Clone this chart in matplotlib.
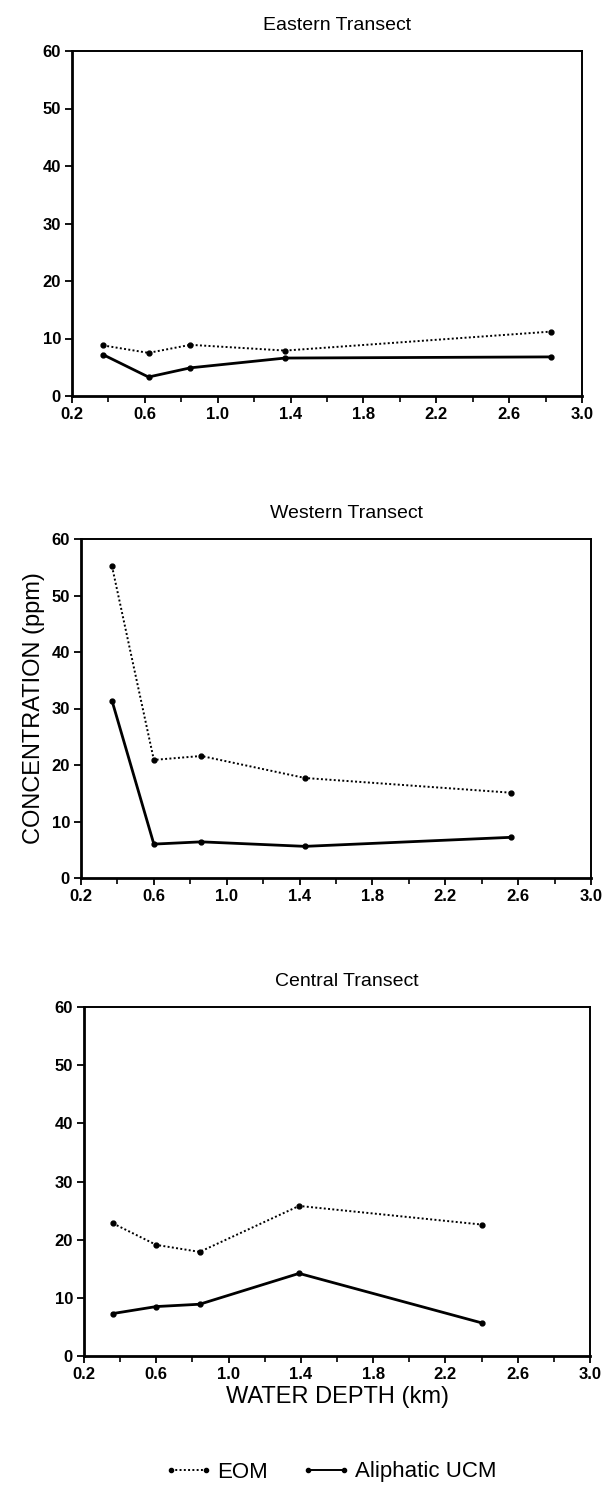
import matplotlib
matplotlib.use("Agg")
import matplotlib.pyplot as plt
from matplotlib.lines import Line2D
from matplotlib.ticker import MultipleLocator

plt.rcParams['font.family'] = ['Liberation Sans', 'DejaVu Sans']

# ---- data ----
east_depth_eom = [0.37, 0.62, 0.85, 1.37, 2.83]
east_eom = [8.8, 7.5, 8.9, 7.9, 11.2]
east_depth_ucm = [0.37, 0.62, 0.85, 1.37, 2.83]
east_ucm = [7.2, 3.3, 4.9, 6.6, 6.8]

west_depth = [0.37, 0.60, 0.86, 1.43, 2.56]
west_eom = [55.2, 20.9, 21.6, 17.7, 15.1]
west_ucm = [31.4, 6.0, 6.4, 5.6, 7.2]

central_depth = [0.36, 0.60, 0.84, 1.39, 2.40]
central_eom = [22.8, 19.1, 17.9, 25.8, 22.6]
central_ucm = [7.3, 8.5, 8.9, 14.2, 5.7]

titles = ["Eastern Transect", "Western Transect", "Central Transect"]
xticks = [0.2, 0.6, 1.0, 1.4, 1.8, 2.2, 2.6, 3.0]
yticks = [0, 10, 20, 30, 40, 50, 60]

W, H = 610, 1485
fig = plt.figure(figsize=(W / 100, H / 100), dpi=100)

def rect(l, r, t, b):
    return [l / W, 1 - b / H, (r - l) / W, (b - t) / H]

rects = [rect(72, 582, 51, 396), rect(81, 591, 539, 878), rect(84, 590, 1007, 1356)]
datasets = [
    (east_depth_eom, east_eom, east_depth_ucm, east_ucm),
    (west_depth, west_eom, west_depth, west_ucm),
    (central_depth, central_eom, central_depth, central_ucm),
]

for i, (r, (xe, ye, xu, yu), title) in enumerate(zip(rects, datasets, titles)):
    ax = fig.add_axes(r)
    ax.plot(xe, ye, color='black', linestyle=(0, (1, 1.2)), linewidth=1.4,
            marker='o', markersize=3.5)
    ax.plot(xu, yu, color='black', linestyle='-', linewidth=2.0,
            marker='o', markersize=3.5)
    ax.set_xlim(0.2, 3.0)
    ax.set_ylim(0, 60)
    ax.set_xticks(xticks)
    ax.xaxis.set_minor_locator(MultipleLocator(0.2))
    ax.set_yticks(yticks)
    ax.set_xticklabels([f"{v:.1f}" for v in xticks], fontsize=12, fontweight='bold')
    ax.set_yticklabels([str(v) for v in yticks], fontsize=12, fontweight='bold')
    ax.tick_params(axis='both', which='major', direction='out', length=5, width=1.3, pad=3)
    ax.tick_params(axis='x', which='minor', direction='out', length=4, width=1.2)
    for s in ['left', 'bottom']:
        ax.spines[s].set_linewidth(2.0)
    for s in ['top', 'right']:
        ax.spines[s].set_linewidth(1.4)
    ax.set_title(title, fontsize=14, pad=15, x=0.52)
    if i == 1:
        ax.set_ylabel("CONCENTRATION (ppm)", fontsize=17, labelpad=5)
    if i == 2:
        ax.set_xlabel("WATER DEPTH (km)", fontsize=17, labelpad=3)

handles = [
    Line2D([0], [0], color='black', linestyle=(0, (1, 1.2)), linewidth=1.4,
           marker='o', markersize=3),
    Line2D([0], [0], color='black', linestyle='-', linewidth=1.4,
           marker='o', markersize=3),
]
fig.legend(handles, ["EOM", "Aliphatic UCM"], loc='center', bbox_to_anchor=(330 / W, 1 - 1472 / H),
           ncol=2, frameon=False, fontsize=16, numpoints=2, handlelength=2.2,
           handletextpad=0.2, columnspacing=1.5)

fig.savefig("out.png", dpi=100)
